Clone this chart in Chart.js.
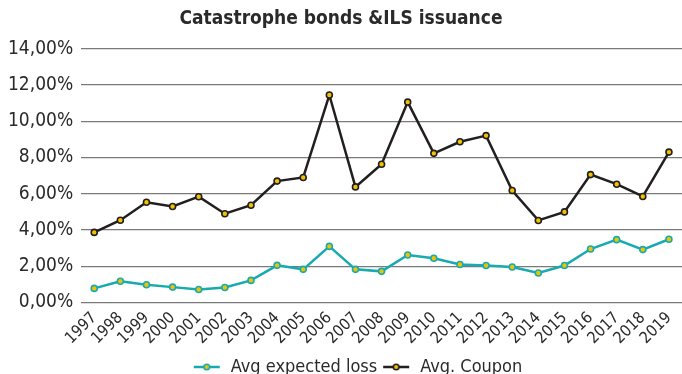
<!DOCTYPE html>
<html>
<head>
<meta charset="utf-8">
<script src="https://cdn.jsdelivr.net/npm/chart.js@4/dist/chart.umd.min.js"></script>
<style>
html,body{margin:0;padding:0;background:#fff;}
#wrap{width:682px;height:374px;}
</style>
</head>
<body>
<div id="wrap"><canvas id="c" width="682" height="374"></canvas></div>
<script>
const years = ["1997","1998","1999","2000","2001","2002","2003","2004","2005","2006","2007","2008","2009","2010","2011","2012","2013","2014","2015","2016","2017","2018","2019"];
const avgExpectedLoss = [0.78,1.17,0.98,0.85,0.72,0.83,1.22,2.05,1.83,3.10,1.83,1.72,2.62,2.44,2.10,2.04,1.96,1.63,2.04,2.95,3.47,2.92,3.49];
const avgCoupon = [3.87,4.54,5.53,5.30,5.84,4.90,5.37,6.70,6.90,11.45,6.38,7.63,11.06,8.23,8.87,9.21,6.18,4.53,5.00,7.06,6.53,5.85,8.30];
const yTicks = [0,2,4,6,8,10,12,14];

const FONT = "'DejaVu Sans Condensed','DejaVu Sans',sans-serif";
const TEAL = '#17aab0';
const DARK = '#231f20';
const YELLOW = '#f2c200';
const TXT = '#2a2a2a';

function legendIcon(color){
  const c = document.createElement('canvas');
  c.width = 28; c.height = 12;
  const g = c.getContext('2d');
  g.strokeStyle = color; g.lineWidth = 2.5;
  g.beginPath(); g.moveTo(1,6); g.lineTo(27,6); g.stroke();
  g.beginPath(); g.arc(14,6,2.8,0,Math.PI*2);
  g.fillStyle = YELLOW; g.fill(); g.lineWidth = 1.6; g.stroke();
  return c;
}

const shiftLegend = {
  id: 'shiftLegend',
  afterLayout(chart) {
    if (chart.legend) { chart.legend.left += 16; chart.legend.right += 16; }
  }
};

new Chart(document.getElementById('c'), {
  type: 'line',
  data: {
    labels: years,
    datasets: [
      {label:'Avg expected loss', data: avgExpectedLoss, borderColor: TEAL, backgroundColor: YELLOW,
       pointBackgroundColor: YELLOW, pointBorderColor: TEAL, pointRadius: 3, pointBorderWidth: 1.6,
       borderWidth: 2.5, tension: 0, fill:false},
      {label:'Avg. Coupon', data: avgCoupon, borderColor: DARK, backgroundColor: YELLOW,
       pointBackgroundColor: YELLOW, pointBorderColor: DARK, pointRadius: 3, pointBorderWidth: 1.6,
       borderWidth: 2.5, tension: 0, fill:false}
    ]
  },
  plugins: [shiftLegend],
  options: {
    responsive: false,
    animation: false,
    devicePixelRatio: 1,
    layout: {autoPadding: false, padding: {left: 0, right: 0, top: 8, bottom: -12}},
    plugins: {
      title: {display: true, text: 'Catastrophe bonds &ILS issuance', color: TXT,
        font: {family: FONT, size: 19, weight: 'bold'}, padding: {top: 0, bottom: 18}},
      legend: {position: 'bottom', labels: {
        color: TXT, font: {family: FONT, size: 18}, usePointStyle: true, pointStyleWidth: 30, padding: 4,
        generateLabels: (chart) => chart.data.datasets.map((d, i) => ({
          text: d.label, pointStyle: legendIcon(d.borderColor), fontColor: TXT,
          datasetIndex: i, hidden: false, lineWidth: 0, strokeStyle: d.borderColor, fillStyle: d.borderColor
        }))
      }},
      tooltip: {enabled: false}
    },
    scales: {
      x: {
        offset: true,
        afterFit: (scale) => { scale.paddingRight = 0; },
        grid: {display: false, drawTicks: false},
        border: {display: false},
        ticks: {color: TXT, font: {family: FONT, size: 16}, maxRotation: 45, minRotation: 45, padding: 6, autoSkip: false}
      },
      y: {
        min: 0, max: 14,
        afterBuildTicks: (axis) => { axis.ticks = yTicks.map(v => ({value: v})); },
        grid: {color: '#7a7a7a', lineWidth: 1.2, drawTicks: false},
        border: {display: false},
        ticks: {color: TXT, font: {family: FONT, size: 19}, padding: 8,
          callback: (v) => v.toFixed(2).replace('.', ',') + '%'}
      }
    }
  }
});
</script>
</body>
</html>
